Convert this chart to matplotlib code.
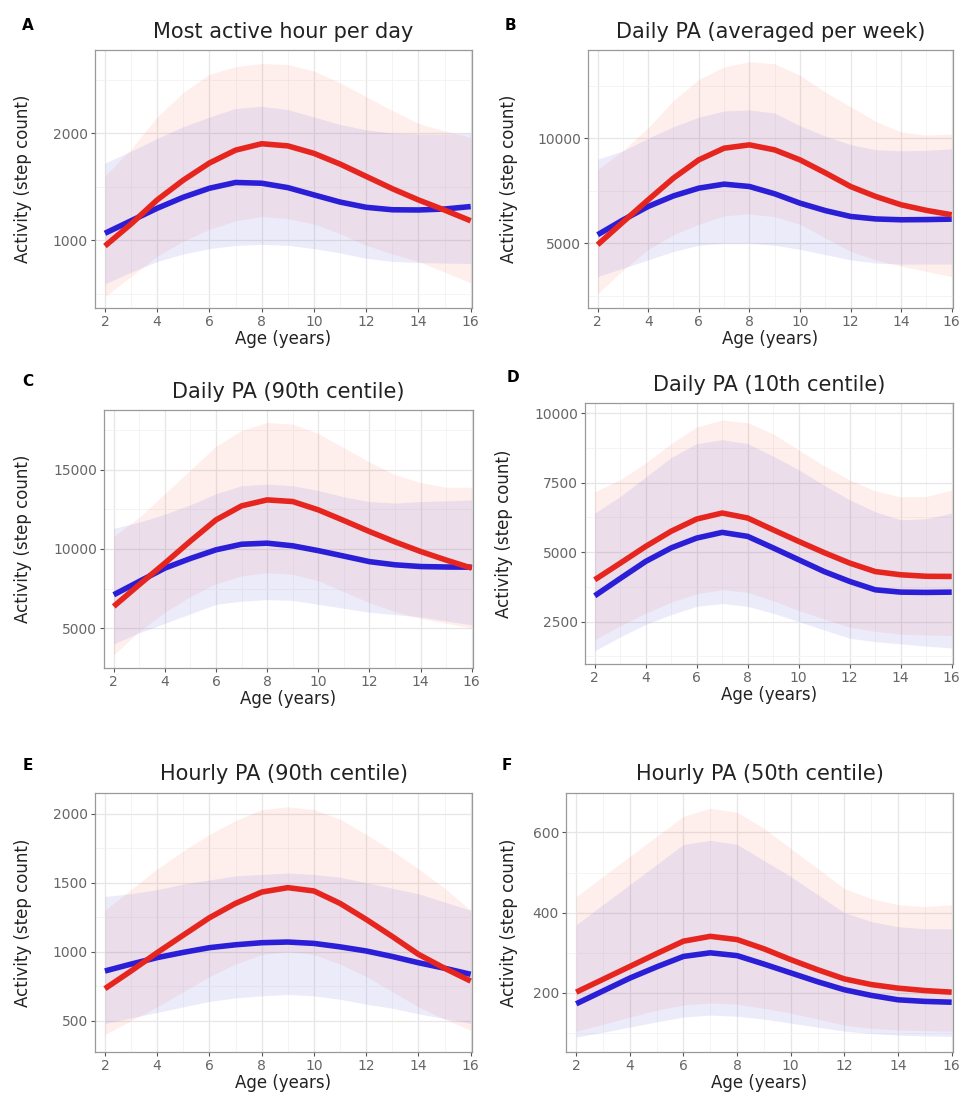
import numpy as np
import matplotlib
matplotlib.use('Agg')
import matplotlib.pyplot as plt
from matplotlib.ticker import MultipleLocator, FixedLocator

age = [2, 3, 4, 5, 6, 7, 8, 9, 10, 11, 12, 13, 14, 15, 16]

# A - Most active hour per day
a_red = [944, 1150, 1375, 1560, 1720, 1840, 1900, 1880, 1810, 1710, 1595, 1480, 1375, 1280, 1180]
a_blue = [1063, 1180, 1297, 1400, 1484, 1538, 1531, 1490, 1422, 1355, 1306, 1283, 1281, 1290, 1313]
a_red_hi = [1600, 1850, 2150, 2380, 2550, 2620, 2650, 2640, 2580, 2470, 2340, 2210, 2090, 2020, 1960]
a_red_lo = [470, 660, 850, 990, 1100, 1180, 1220, 1200, 1150, 1060, 950, 870, 800, 700, 600]
a_blue_hi = [1720, 1830, 1950, 2060, 2150, 2230, 2250, 2220, 2150, 2080, 2030, 2000, 1990, 1990, 2000]
a_blue_lo = [590, 700, 800, 870, 920, 950, 960, 950, 920, 880, 830, 800, 790, 785, 780]

# B - Daily PA (averaged per week)
b_red = [4921, 6000, 7063, 8100, 8968, 9524, 9683, 9444, 8968, 8350, 7698, 7220, 6825, 6560, 6349]
b_blue = [5397, 6100, 6746, 7250, 7619, 7810, 7698, 7350, 6905, 6550, 6270, 6150, 6111, 6120, 6143]
b_red_hi = [8500, 9400, 10500, 11800, 12800, 13400, 13650, 13550, 13000, 12200, 11500, 10800, 10300, 10150, 10200]
b_red_lo = [2600, 3700, 4700, 5400, 5900, 6300, 6400, 6250, 5900, 5250, 4600, 4200, 3900, 3650, 3400]
b_blue_hi = [9000, 9400, 10000, 10550, 11000, 11300, 11350, 11200, 10600, 10100, 9700, 9450, 9400, 9420, 9500]
b_blue_lo = [3400, 3800, 4200, 4600, 4900, 5000, 5000, 4900, 4700, 4450, 4200, 4050, 4000, 4000, 4000]

# C - Daily PA (90th centile)
c_red = [6368, 7750, 9105, 10500, 11842, 12726, 13105, 13000, 12474, 11800, 11105, 10450, 9842, 9300, 8789]
c_blue = [7105, 7950, 8789, 9400, 9947, 10300, 10368, 10200, 9895, 9550, 9200, 9000, 8890, 8860, 8850]
c_red_hi = [10800, 12000, 13500, 15000, 16500, 17500, 18000, 17900, 17300, 16400, 15500, 14700, 14200, 13900, 13900]
c_red_lo = [3300, 4800, 6000, 7000, 7800, 8300, 8500, 8400, 8000, 7300, 6600, 6050, 5600, 5300, 5000]
c_blue_hi = [11300, 11700, 12200, 12800, 13500, 14000, 14100, 14000, 13700, 13300, 13000, 12900, 13000, 13050, 13100]
c_blue_lo = [4000, 4700, 5300, 5900, 6500, 6700, 6800, 6750, 6500, 6250, 6000, 5850, 5700, 5450, 5200]

# D - Daily PA (10th centile)
d_red = [4004, 4600, 5204, 5750, 6188, 6404, 6224, 5800, 5384, 4980, 4604, 4300, 4184, 4130, 4124]
d_blue = [3428, 4050, 4664, 5150, 5504, 5708, 5564, 5150, 4724, 4300, 3944, 3644, 3560, 3550, 3560]
d_red_hi = [7164, 7600, 8200, 8900, 9500, 9748, 9650, 9250, 8668, 8100, 7588, 7200, 6988, 7000, 7228]
d_red_lo = [1850, 2350, 2800, 3200, 3500, 3650, 3550, 3250, 2900, 2600, 2300, 2150, 2050, 2020, 2000]
d_blue_hi = [6404, 7000, 7700, 8400, 8900, 9040, 8900, 8450, 7960, 7400, 6880, 6450, 6160, 6200, 6400]
d_blue_lo = [1450, 1950, 2400, 2750, 3050, 3150, 3050, 2800, 2500, 2200, 1900, 1780, 1700, 1620, 1550]

# E - Hourly PA (90th centile)
e_red = [732, 860, 993, 1120, 1246, 1350, 1432, 1464, 1440, 1350, 1234, 1110, 981, 880, 787]
e_blue = [860, 910, 957, 995, 1029, 1050, 1065, 1070, 1060, 1035, 1005, 965, 920, 880, 836]
e_red_hi = [1300, 1450, 1600, 1730, 1850, 1950, 2030, 2050, 2030, 1960, 1850, 1730, 1600, 1460, 1300]
e_red_lo = [400, 500, 600, 710, 820, 910, 980, 1000, 980, 910, 820, 710, 600, 510, 430]
e_blue_hi = [1400, 1420, 1450, 1490, 1520, 1550, 1560, 1570, 1560, 1540, 1500, 1460, 1420, 1360, 1300]
e_blue_lo = [480, 520, 560, 600, 640, 665, 680, 690, 680, 655, 620, 590, 550, 515, 480]

# F - Hourly PA (50th centile)
f_red = [202, 234, 266, 298, 329, 341, 333, 310, 283, 258, 235, 221, 212, 206, 202]
f_blue = [173, 205, 237, 265, 291, 300, 293, 272, 250, 228, 208, 194, 183, 179, 177]
f_red_hi = [440, 490, 540, 590, 640, 660, 650, 610, 560, 510, 460, 435, 420, 415, 420]
f_red_lo = [105, 122, 140, 157, 170, 175, 172, 162, 150, 135, 120, 112, 108, 106, 105]
f_blue_hi = [370, 420, 470, 520, 570, 580, 570, 530, 490, 445, 400, 378, 365, 360, 360]
f_blue_lo = [90, 102, 115, 128, 140, 145, 142, 135, 125, 115, 105, 99, 95, 93, 92]

titles = ['Most active hour per day', 'Daily PA (averaged per week)',
          'Daily PA (90th centile)', 'Daily PA (10th centile)',
          'Hourly PA (90th centile)', 'Hourly PA (50th centile)']
letters = ['A', 'B', 'C', 'D', 'E', 'F']
yticks = [[1000, 2000], [5000, 10000], [5000, 10000, 15000],
          [2500, 5000, 7500, 10000], [500, 1000, 1500, 2000], [200, 400, 600]]
ylims = [(365, 2776), (1905, 14206), (2474, 18789), (976, 10360), (273, 2150), (53, 698)]

series = [
    (a_red, a_blue, a_red_hi, a_red_lo, a_blue_hi, a_blue_lo),
    (b_red, b_blue, b_red_hi, b_red_lo, b_blue_hi, b_blue_lo),
    (c_red, c_blue, c_red_hi, c_red_lo, c_blue_hi, c_blue_lo),
    (d_red, d_blue, d_red_hi, d_red_lo, d_blue_hi, d_blue_lo),
    (e_red, e_blue, e_red_hi, e_red_lo, e_blue_hi, e_blue_lo),
    (f_red, f_blue, f_red_hi, f_red_lo, f_blue_hi, f_blue_lo),
]

# panel boxes in pixels: left, right, top, bottom ; letter x,y ; ylabel x
W, H = 965, 1102
boxes = [(95, 472, 50, 308), (588, 953, 50, 308),
         (104, 473, 410, 668), (585, 953, 403, 664),
         (95, 472, 793, 1052), (566, 953, 793, 1052)]
letter_pos = [(28, 25), (510, 25), (28, 382), (513, 377), (28, 765), (507, 765)]
ylab_x = [32, 518, 32, 513, 32, 518]

fig = plt.figure(figsize=(W / 100, H / 100), dpi=100)

for i in range(6):
    l, r, t, b = boxes[i]
    ax = fig.add_axes([l / W, 1 - b / H, (r - l) / W, (b - t) / H])
    red, blue, rhi, rlo, bhi, blo = series[i]

    ax.fill_between(age, rlo, rhi, color='#ff6347', alpha=0.10, lw=0)
    ax.fill_between(age, blo, bhi, color='#6666dd', alpha=0.125, lw=0)
    ax.plot(age, blue, color='#2a1ed6', lw=4, solid_capstyle='butt')
    ax.plot(age, red, color='#e6251e', lw=4, solid_capstyle='butt')

    ax.set_xlim(1.62, 16.05)
    ax.set_ylim(*ylims[i])
    ax.xaxis.set_major_locator(MultipleLocator(2))
    ax.xaxis.set_minor_locator(FixedLocator([3, 5, 7, 9, 11, 13, 15]))
    step = yticks[i][1] - yticks[i][0]
    ax.set_yticks(yticks[i])
    ax.yaxis.set_minor_locator(MultipleLocator(step / 2))
    ax.grid(which='major', color='#e6e6e6', lw=0.9)
    ax.grid(which='minor', color='#f2f2f2', lw=0.6)
    ax.set_axisbelow(True)
    ax.tick_params(which='minor', length=0)
    ax.tick_params(which='major', length=3, color='#555555', labelcolor='#666666',
                   labelsize=10, pad=2)
    for s in ax.spines.values():
        s.set_color('#999999')
        s.set_linewidth(0.9)

    ax.set_title(titles[i], fontsize=15, color='#222222', pad=9)
    ax.set_xlabel('Age (years)', fontsize=12, color='#222222', labelpad=1)
    ax.set_ylabel('Activity (step count)', fontsize=12, color='#222222')
    ax.yaxis.set_label_coords((ylab_x[i] - l) / (r - l), 0.5)

    fig.text(letter_pos[i][0] / W, 1 - letter_pos[i][1] / H, letters[i],
             fontsize=11, fontweight='bold', ha='center', va='center')

fig.savefig('out.png', dpi=100, facecolor='white')
